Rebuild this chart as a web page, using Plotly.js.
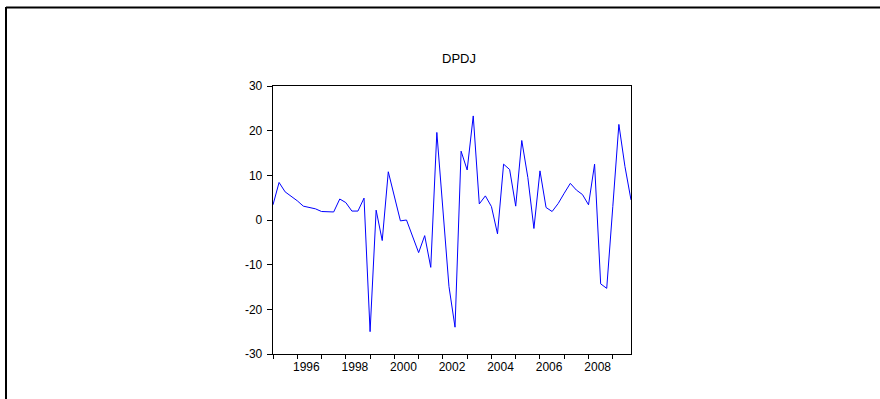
<!DOCTYPE html>
<html>
<head>
<meta charset="utf-8">
<script src="https://cdn.plot.ly/plotly-3.0.1.min.js"></script>
<style>
html,body{margin:0;padding:0;background:#fff;}
#chart{width:880px;height:399px;}
</style>
</head>
<body>
<div id="chart"></div>
<script>
// Quarterly periods 1995Q1 .. 2009Q4
var periods = [
  "1995Q1","1995Q2","1995Q3","1995Q4","1996Q1","1996Q2","1996Q3","1996Q4",
  "1997Q1","1997Q2","1997Q3","1997Q4","1998Q1","1998Q2","1998Q3","1998Q4",
  "1999Q1","1999Q2","1999Q3","1999Q4","2000Q1","2000Q2","2000Q3","2000Q4",
  "2001Q1","2001Q2","2001Q3","2001Q4","2002Q1","2002Q2","2002Q3","2002Q4",
  "2003Q1","2003Q2","2003Q3","2003Q4","2004Q1","2004Q2","2004Q3","2004Q4",
  "2005Q1","2005Q2","2005Q3","2005Q4","2006Q1","2006Q2","2006Q3","2006Q4",
  "2007Q1","2007Q2","2007Q3","2007Q4","2008Q1","2008Q2","2008Q3","2008Q4",
  "2009Q1","2009Q2","2009Q3","2009Q4"
];
var dpdj = [
  3.4, 8.4, 6.3, 5.4, 4.3, 3.1, 2.8, 2.5,
  1.9, 1.9, 1.8, 4.7, 3.9, 2.0, 2.0, 4.9,
  -25.0, 2.2, -4.6, 10.8, 5.4, -0.2, 0.0, -3.7,
  -7.3, -3.5, -10.6, 19.6, 2.4, -14.9, -24.0, 15.4,
  11.2, 23.3, 3.6, 5.4, 3.0, -3.1, 12.5, 11.3,
  3.1, 17.8, 9.5, -1.9, 11.0, 2.8, 1.9, 3.7,
  6.0, 8.2, 6.7, 5.7, 3.4, 12.5, -14.3, -15.3,
  3.0, 21.4, 12.0, 4.5
];
var yearTicks = [1995,1996,1997,1998,1999,2000,2001,2002,2003,2004,2005,2006,2007,2008,2009];
var yearLabels = ["1996","1998","2000","2002","2004","2006","2008"];
var yTicks = [-30,-20,-10,0,10,20,30];
var yTickText = ["-30","-20","-10","0","10","20","30"];
var titleText = "DPDJ";

function periodToNum(p){
  var y = parseInt(p.slice(0,4),10), q = parseInt(p.slice(5),10);
  return y + (q-1)/4;
}
var xs = periods.map(periodToNum);
var labelPos = yearLabels.map(function(s){ return parseInt(s,10) + 0.375; });

var font = {family: "Liberation Sans, Arial, sans-serif", size: 12, color: "#000"};
var xr = [1995, 2009.75];

var trace = {
  x: xs, y: dpdj, type: "scatter", mode: "lines",
  line: {color: "#0000ff", width: 1},
  hoverinfo: "skip", showlegend: false
};
var dummy = {x: labelPos, y: labelPos.map(function(){return null;}), xaxis: "x2", yaxis: "y",
  type: "scatter", mode: "lines", showlegend: false, hoverinfo: "skip"};

var L = 273, R = 631, T = 86, B = 354, W = 880, H = 399;
var pw = R - L, ph = B - T;
function px(x){ return (x - L)/pw; }
function py(y){ return (B - y)/ph; }

var layout = {
  width: W, height: H,
  margin: {l: L, r: W - R, t: T, b: H - B, pad: 0},
  paper_bgcolor: "#fff", plot_bgcolor: "#fff",
  font: font,
  title: {text: titleText, font: {family: font.family, size: 13, color: "#000"},
          x: px(459), xref: "paper", xanchor: "center", y: 1 - 58/H, yanchor: "middle"},
  xaxis: {
    range: xr, tickmode: "array", tickvals: yearTicks, showticklabels: false,
    ticks: "outside", ticklen: 4, tickwidth: 1, tickcolor: "#000",
    showline: true, mirror: true, linecolor: "#000", linewidth: 1.3,
    showgrid: false, zeroline: false, fixedrange: true
  },
  xaxis2: {
    overlaying: "x", anchor: "y", side: "bottom", range: xr,
    tickmode: "array", tickvals: labelPos, ticktext: yearLabels,
    ticks: "", showline: false, showgrid: false, zeroline: false,
    tickfont: font, ticklabelstandoff: 4, fixedrange: true
  },
  yaxis: {
    range: [-30, 30], tickmode: "array", tickvals: yTicks, ticktext: yTickText,
    ticks: "outside", ticklen: 5, tickwidth: 1, tickcolor: "#000",
    showline: true, mirror: true, linecolor: "#000", linewidth: 1.3,
    showgrid: false, zeroline: false, tickfont: font, ticklabelstandoff: 2, fixedrange: true
  },
  shapes: [
    {type: "line", xref: "paper", yref: "paper", x0: px(6), x1: px(885), y0: py(7.5), y1: py(7.5),
     line: {color: "#000", width: 2}},
    {type: "line", xref: "paper", yref: "paper", x0: px(6), x1: px(6), y0: py(7), y1: py(405),
     line: {color: "#000", width: 2}}
  ]
};

Plotly.newPlot("chart", [trace, dummy], layout, {staticPlot: true, displayModeBar: false});
</script>
</body>
</html>
